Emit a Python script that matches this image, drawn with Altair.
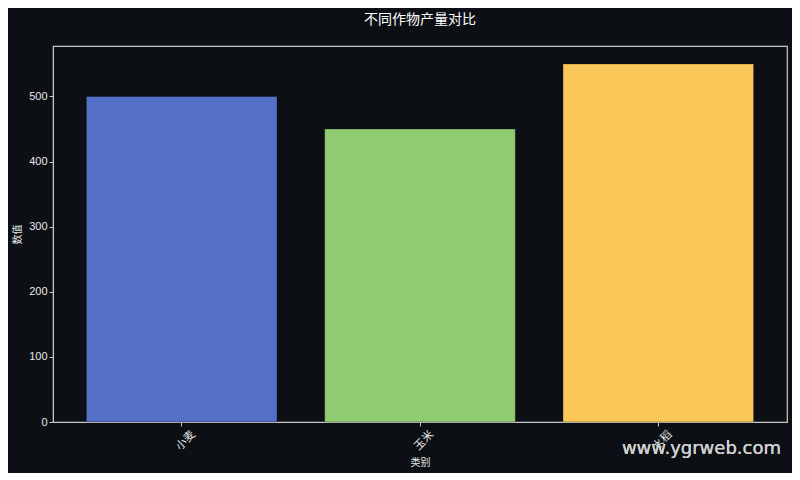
import altair as alt
import pandas as pd

categories = ["小麦", "玉米", "水稻"]
values = [500, 450, 550]
colors = ["#5470c6", "#91cc75", "#fac858"]

df = pd.DataFrame({"类别": categories, "数值": values})

FONT = "Liberation Sans, Noto Sans CJK SC"
CJK = "Noto Sans CJK SC"
BG = "#0c0f14"

bars = alt.Chart(df).mark_bar(opacity=1, stroke="#000000", strokeOpacity=0.3, strokeWidth=1).encode(
    x=alt.X("类别:N", sort=categories,
            scale=alt.Scale(paddingInner=0.2, paddingOuter=0.14),
            axis=alt.Axis(title="类别", labelAngle=-45, labelAlign="center",
                          labelBaseline="top", labelPadding=10)),
    y=alt.Y("数值:Q", scale=alt.Scale(domain=[0, 577.5], nice=False),
            axis=alt.Axis(title="数值", values=[0, 100, 200, 300, 400, 500])),
    color=alt.Color("类别:N", sort=categories,
                    scale=alt.Scale(domain=categories, range=colors), legend=None),
)

wm = alt.Chart(df).mark_text(
    text="www.ygrweb.com", font="DejaVu Sans", fontSize=18, color="#d0d0d0",
    align="right", baseline="middle", opacity=0.9
).encode(x=alt.value(728), y=alt.value(403))

chart = alt.layer(bars, wm).properties(
    width=734, height=376,
    title=alt.TitleParams("不同作物产量对比", fontSize=14, color="#ffffff",
                          font=CJK, fontWeight="normal", offset=19, anchor="middle"),
    background=BG,
    padding={"left": 45, "top": 38, "right": 5, "bottom": 51},
    autosize=alt.AutoSizeParams(type="none"),
).configure_view(
    stroke="#c8c8c8", strokeWidth=1.2, fill=BG
).configure_axis(
    labelFont=FONT, titleFont=CJK, labelColor="#e8e8e8", titleColor="#e8e8e8",
    labelFontSize=11, titleFontSize=10, titleFontWeight="normal",
    domainColor="#c8c8c8", tickColor="#c8c8c8", grid=False, tickSize=4,
).configure_axisY(titlePadding=6).configure_axisX(titlePadding=6)

chart.save("out.html", embed_options={"renderer": "svg", "actions": False})
